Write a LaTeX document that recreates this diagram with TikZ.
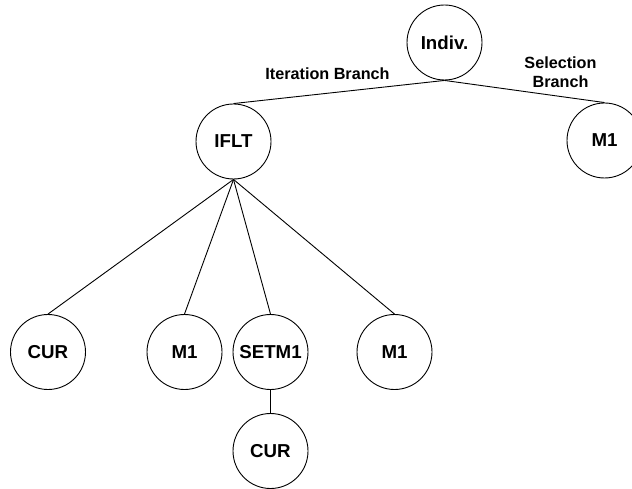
\documentclass[tikz,border=0pt]{standalone}
\usepackage{fontspec}
\setmainfont{Liberation Sans}
\begin{document}
\begin{tikzpicture}[x=1pt,y=-1pt,
  tnode/.style={draw=black,circle,minimum size=75pt,inner sep=0pt,line width=0.9pt,
    font=\bfseries\fontsize{18.7}{22}\selectfont},
  edge/.style={draw=black,line width=0.9pt},
  lbl/.style={font=\bfseries\fontsize{16.2}{19}\selectfont,align=center,inner sep=0pt}]
\clip (0,0) rectangle (632,489);
\useasboundingbox (0,0) rectangle (632,489);
\node[tnode] (indiv) at (444.5,42.5) {Indiv.};
\node[tnode] (iflt) at (233.5,141.5) {IFLT};
\node[tnode] (m1r) at (604.5,140.5) {M1};
\node[tnode] (cur1) at (48,352) {CUR};
\node[tnode] (m1a) at (184.5,352) {M1};
\node[tnode] (setm1) at (270.5,352) {SETM1};
\node[tnode] (m1b) at (394.5,352) {M1};
\node[tnode] (cur2) at (270.5,451) {CUR};
\node[lbl] (itlbl) at (327.5,73.5) {Iteration Branch};
\node[lbl] (sellbl) at (560.5,72) {Selection\\Branch};
\draw[edge] (indiv.south) -- (iflt.north);
\draw[edge] (indiv.south) -- (m1r.north);
\draw[edge] (iflt.south) -- (cur1.north);
\draw[edge] (iflt.south) -- (m1a.north);
\draw[edge] (iflt.south) -- (setm1.north);
\draw[edge] (iflt.south) -- (m1b.north);
\draw[edge] (setm1.south) -- (cur2.north);
\end{tikzpicture}
\end{document}
